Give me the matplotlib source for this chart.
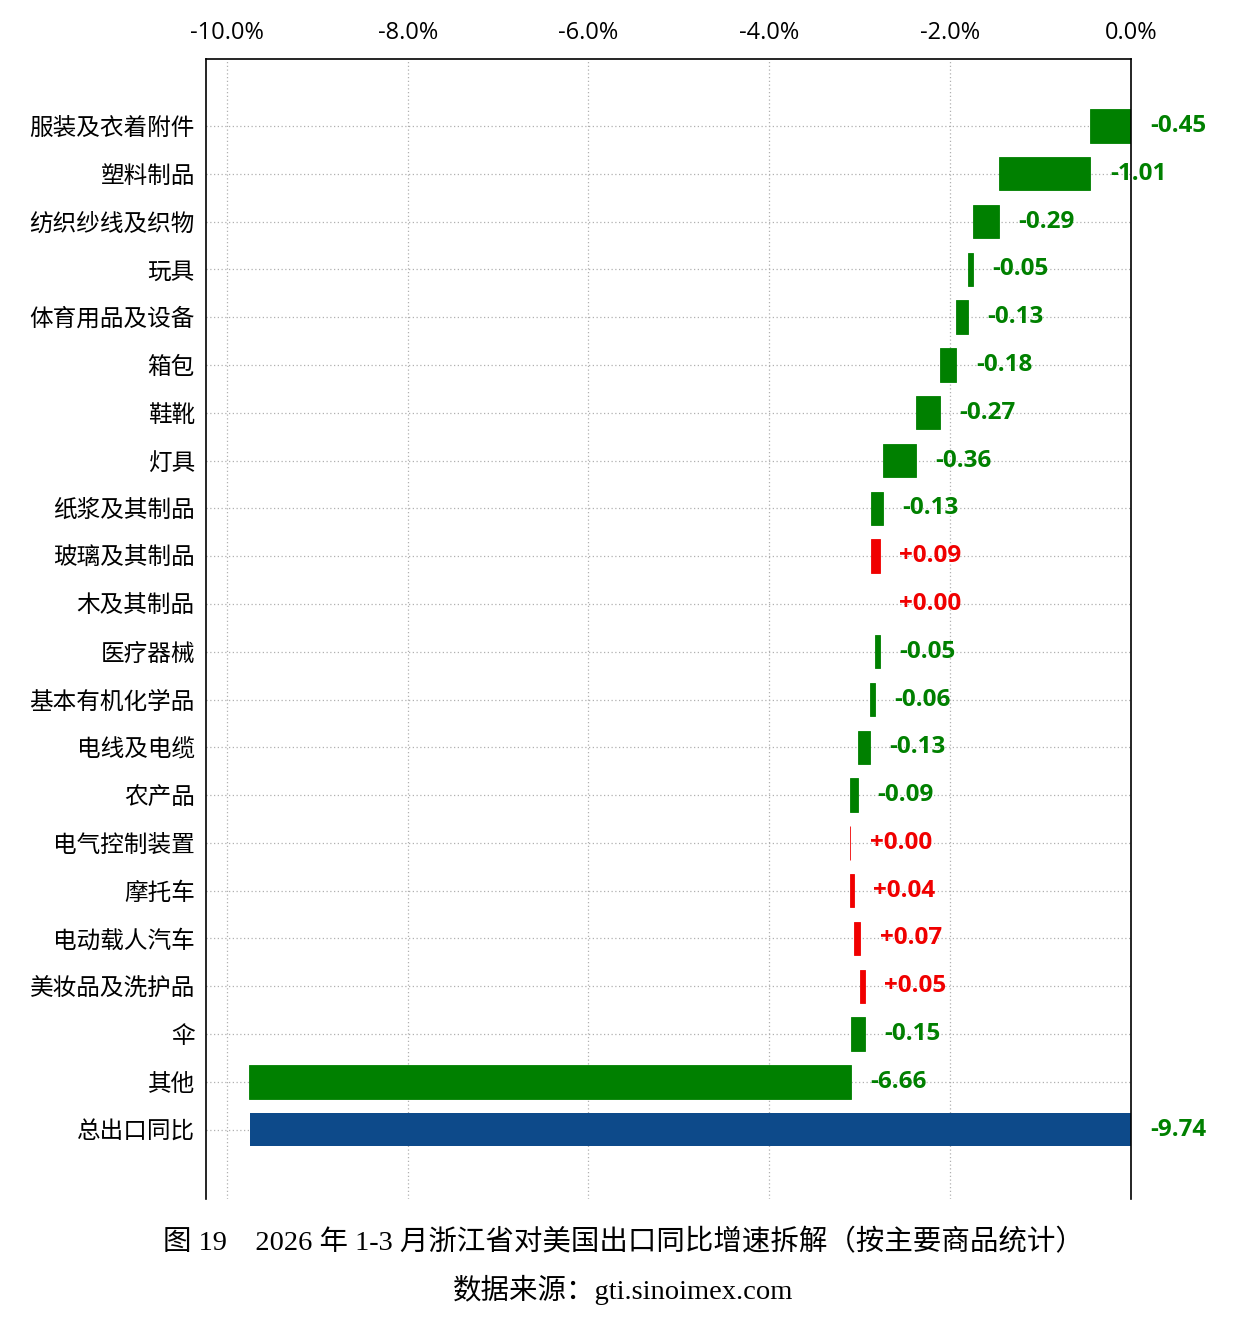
import matplotlib.pyplot as plt
from matplotlib.ticker import FuncFormatter

plt.rcParams['font.family'] = ['Open Sans', 'Noto Sans CJK SC', 'DejaVu Sans']

# 类别与各商品对同比增速的贡献（百分点）
categories = ['服装及衣着附件', '塑料制品', '纺织纱线及织物', '玩具', '体育用品及设备', '箱包',
              '鞋靴', '灯具', '纸浆及其制品', '玻璃及其制品', '木及其制品', '医疗器械',
              '基本有机化学品', '电线及电缆', '农产品', '电气控制装置', '摩托车',
              '电动载人汽车', '美妆品及洗护品', '伞', '其他']
contrib = [-0.45, -1.01, -0.29, -0.05, -0.13, -0.18, -0.27, -0.36, -0.13, 0.09, 0.00,
           -0.05, -0.06, -0.13, -0.09, 0.004, 0.04, 0.07, 0.05, -0.15, -6.66]
total_label = '总出口同比'
total_value = -9.74
xticks = [-10, -8, -6, -4, -2, 0]

GREEN = '#008000'
RED = '#f00000'
BLUE = '#0d4a8a'

fig = plt.figure(figsize=(12.47, 13.23), dpi=100)
ax = fig.add_axes([206 / 1247, 1 - 1199 / 1323, 925 / 1247, 1140 / 1323])

# waterfall: each bar starts where the previous one ended
start = 0.0
for i, v in enumerate(contrib):
    color = GREEN if v < 0 else RED
    ax.barh(i, v, left=start, height=0.7, color=color, edgecolor=color,
            linewidth=0.6 if v != 0 else 0)
    right = max(start, start + v)
    ax.annotate(f'{v:+.2f}', (right, i), xytext=(14, 0), textcoords='offset points',
                va='center', ha='left', fontsize=17.5, fontweight='bold', color=color)
    start += v

n = len(contrib)
ax.barh(n, total_value, left=0, height=0.7, color=BLUE, linewidth=0)
ax.annotate(f'{total_value:.2f}', (0, n), xytext=(14, 0), textcoords='offset points',
            va='center', ha='left', fontsize=17.5, fontweight='bold', color=GREEN,
            annotation_clip=False)

ax.set_yticks(range(n + 1))
ax.set_yticklabels(categories + [total_label], fontsize=17, family=['Noto Sans CJK SC'])
ax.set_ylim(n + 1.45, -1.4)
ax.set_xlim(-10.23, 0)
ax.set_xticks(xticks)
ax.xaxis.set_major_formatter(FuncFormatter(lambda x, p: f'{x:.1f}%'))
ax.xaxis.tick_top()
ax.tick_params(axis='x', length=0, pad=10, labelsize=17)
ax.tick_params(axis='y', length=0, pad=8)

ax.grid(True, linestyle=(0, (1, 2)), color='#b0b0b0', linewidth=0.9)
ax.set_axisbelow(True)
ax.spines['bottom'].set_visible(False)
for s in ['left', 'right', 'top']:
    ax.spines[s].set_linewidth(1.2)
    ax.spines[s].set_color('black')

cap_font = ['Liberation Serif', 'Noto Sans CJK SC']
fig.text(0.5, 1 - 1243 / 1323, '图 19　2026 年 1-3 月浙江省对美国出口同比增速拆解（按主要商品统计）',
         ha='center', va='center', fontsize=20.5, family=cap_font)
fig.text(0.5, 1 - 1290 / 1323, '数据来源：gti.sinoimex.com',
         ha='center', va='center', fontsize=20.5, family=cap_font)

fig.savefig('out.png', dpi=100)
